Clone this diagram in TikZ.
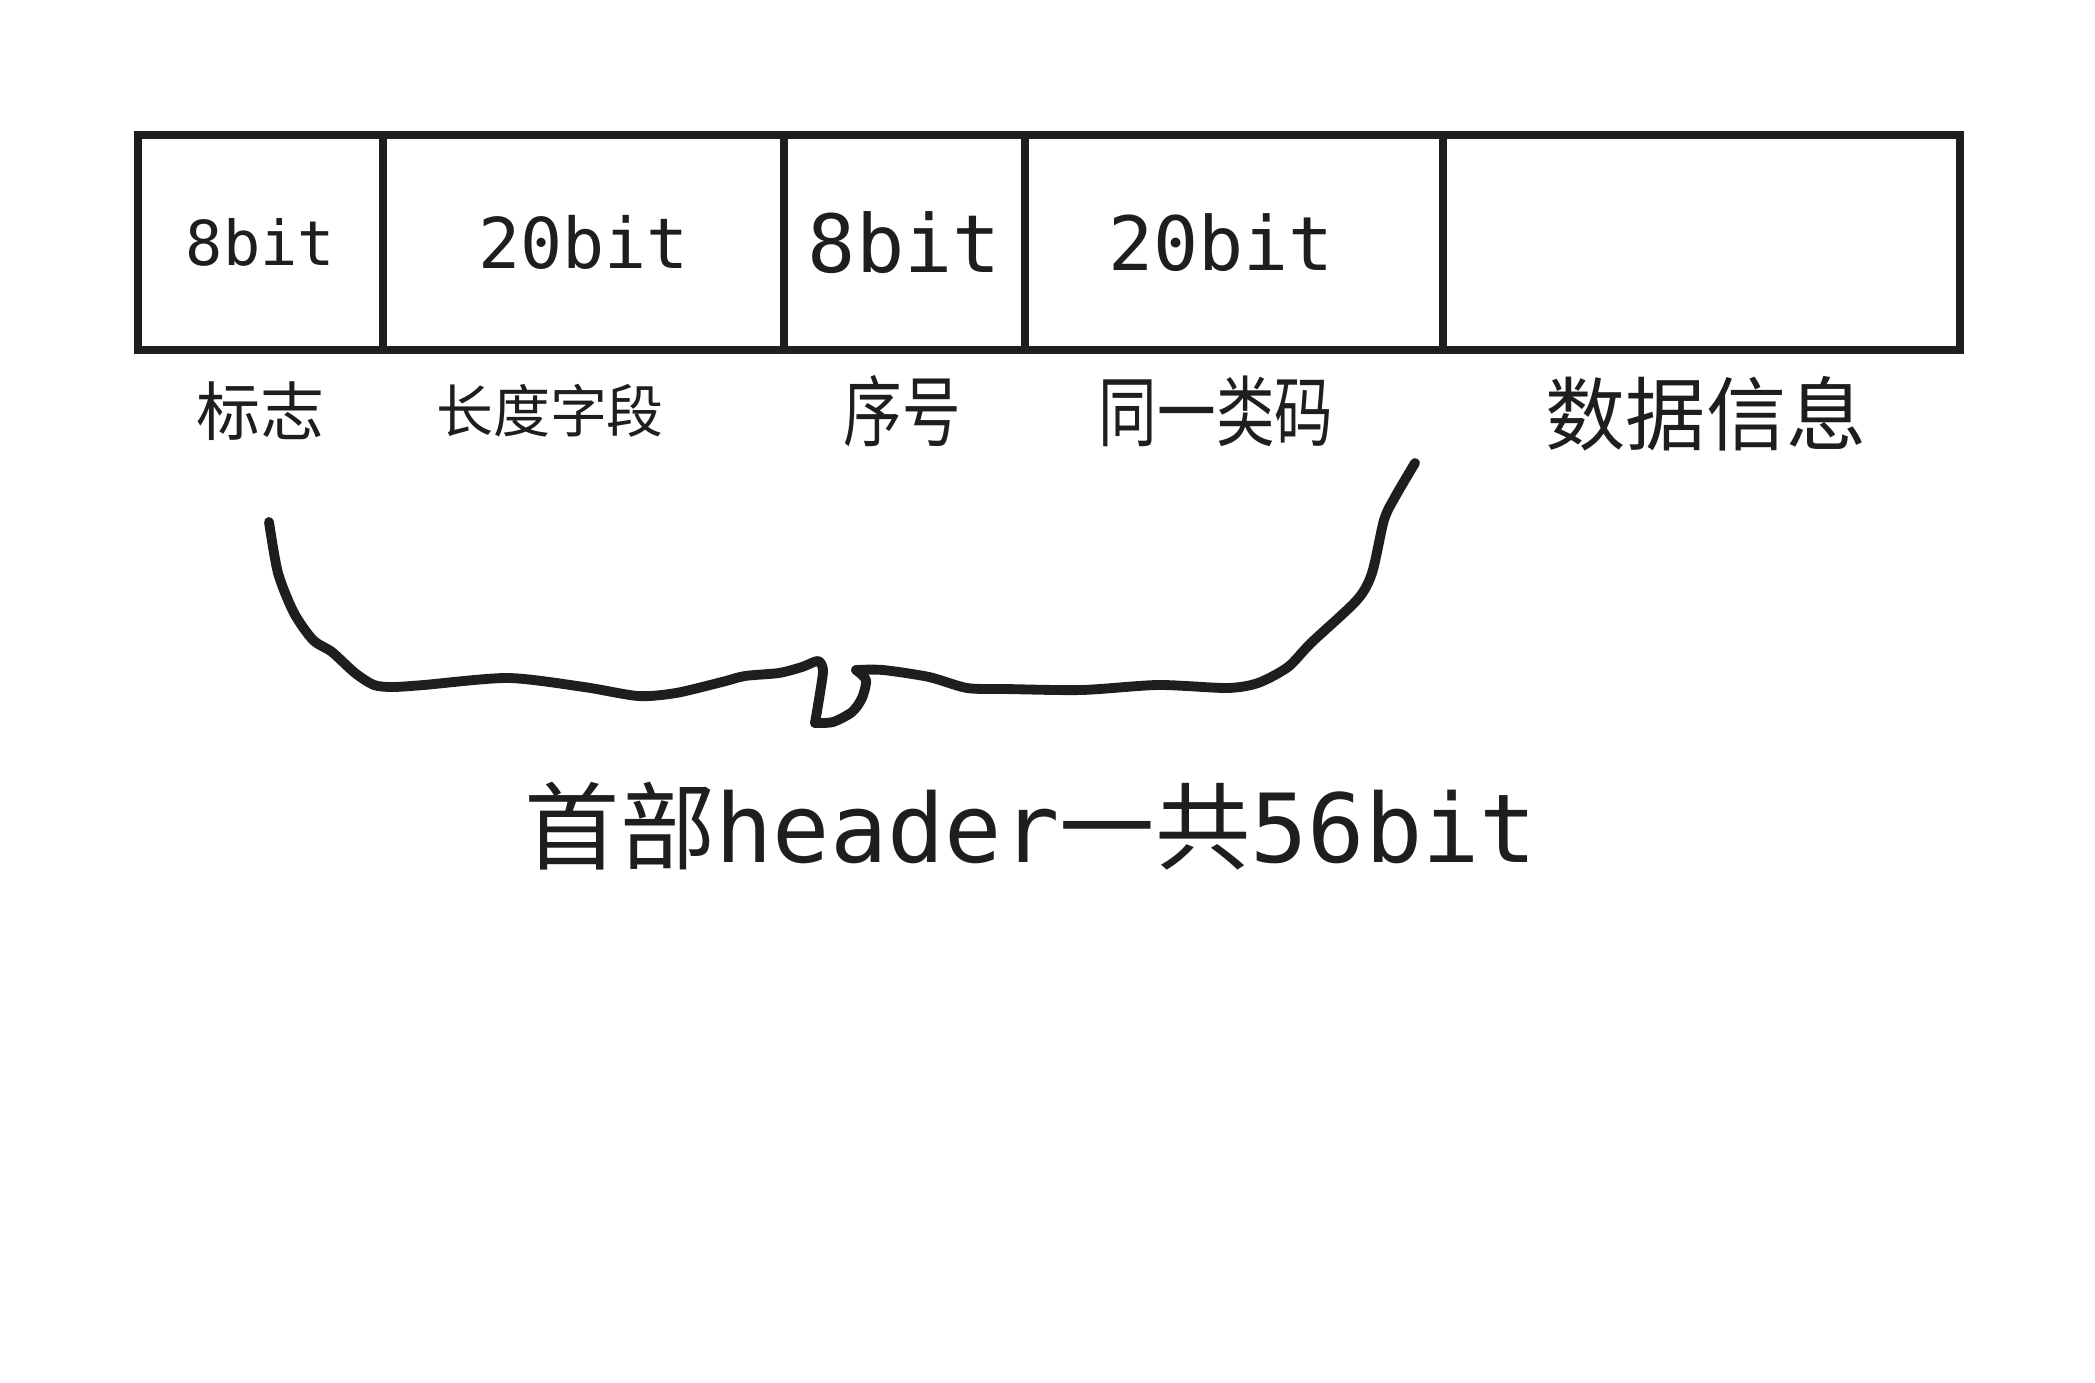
\documentclass[tikz,border=0pt]{standalone}
\usepackage{fontspec}
\setmonofont{DejaVu Sans Mono}
\newfontfamily\cjk{Noto Sans CJK SC}
\usetikzlibrary{positioning}
\definecolor{ink}{HTML}{1E1E1E}
\tikzset{
  field/.style={draw=ink, line width=2.1pt, minimum height=2.15cm, inner sep=0pt, text=ink, font=\ttfamily},
  lab/.style={inner sep=0pt, text=ink},
  brace/.style={draw=ink, line width=2.8pt, line cap=round, line join=round}
}
\begin{document}
\begin{tikzpicture}[x=0.01cm, y=-0.01cm]
  \useasboundingbox (0,0) rectangle (2095,1383);
  % header fields
  \node[field, minimum width=2.45cm, font=\ttfamily\fontsize{17.6}{20}\selectfont] (flag) at (260.5,242.5) {8bit};
  \node[field, minimum width=4.01cm, font=\ttfamily\fontsize{19.9}{22}\selectfont] (len) at (583.5,242.5) {20bit};
  \node[field, minimum width=2.41cm, font=\ttfamily\fontsize{22.8}{25}\selectfont] (seq) at (904.5,242.5) {8bit};
  \node[field, minimum width=4.18cm, font=\ttfamily\fontsize{21.3}{24}\selectfont] (code) at (1234,242.5) {\hspace*{-0.26cm}20bit};
  \node[field, minimum width=5.17cm] (data) at (1701.5,242.5) {};
  % names under the fields
  \node[lab, font=\cjk\fontsize{18.2}{20}\selectfont] (flagname) at (260,411) {标志};
  \node[lab, font=\cjk\fontsize{16.2}{18}\selectfont] (lenname) at (550,411) {长度字段};
  \node[lab, font=\cjk\fontsize{21.9}{24}\selectfont] (seqname) at (902,411) {\scalebox{0.76}[1]{序号}};
  \node[lab, font=\cjk\fontsize{21.9}{24}\selectfont] (codename) at (1216,411) {\scalebox{0.76}[1]{同一类码}};
  \node[lab, font=\cjk\fontsize{22.8}{25}\selectfont] (dataname) at (1706,414) {数据信息};
  % hand drawn brace
  \draw[brace] plot[smooth, tension=0.45] coordinates {
    (269,522) (278,573) (294,613) (313,640) (332,652) (355,673) (374,685)
    (393,687) (424,685) (508,678) (584,687) (638,696) (676,693) (722,682)
    (745,676) (779,673) (802,667) (818,661) (823,670) (820,693) (815,723)};
  \draw[brace] plot[smooth, tension=0.45] coordinates {
    (815,723) (833,722) (852,712) (862,698) (866,680) (856,670)};
  \draw[brace] plot[smooth, tension=0.45] coordinates {
    (856,670) (883,670) (929,677) (967,688) (1005,689) (1082,690) (1158,685)
    (1227,688) (1258,683) (1288,667) (1311,643) (1357,600) (1372,573)
    (1384,520) (1395,497) (1415,463)};
  % total
  \node[lab] (total) at (1031,826) {\fontsize{27.1}{30}\selectfont{\cjk 首部}{\ttfamily header}{\cjk 一共}{\ttfamily 56bit}};
\end{tikzpicture}
\end{document}
